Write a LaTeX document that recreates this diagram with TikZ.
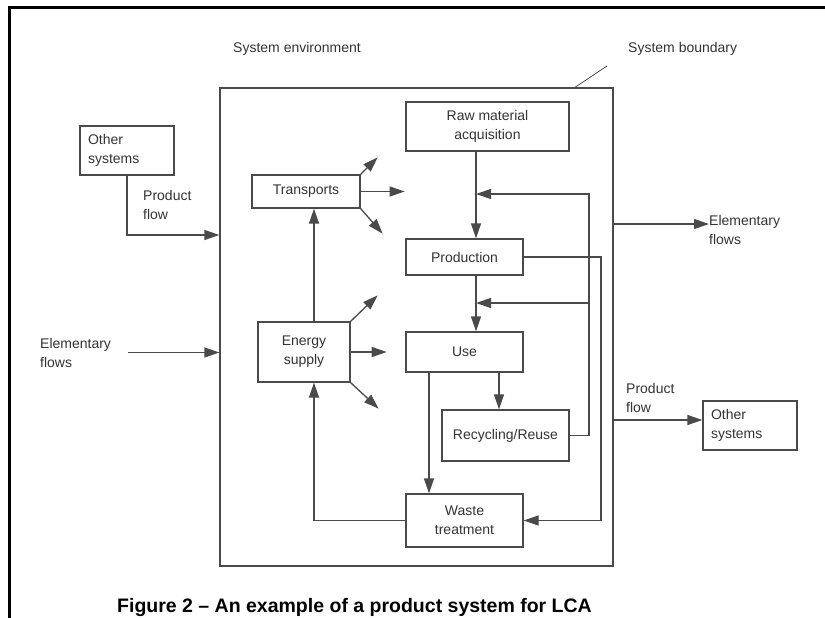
\documentclass[tikz,border=0pt]{standalone}
\usepackage{fontspec}
\setmainfont{Liberation Sans}
\usetikzlibrary{arrows.meta, positioning}
\definecolor{inkgray}{HTML}{4A4A4A}
\definecolor{txtgray}{HTML}{333333}
\tikzset{
  stage/.style  = {rectangle, draw=inkgray, line width=1.3pt, align=center,
                   inner sep=0pt, text=txtgray, font=\fontsize{14}{19}\selectfont},
  outer/.style  = {stage, align=left, text width=78pt, inner xsep=8pt,
                   minimum width=94pt, minimum height=49pt},
  lbl/.style    = {inner sep=0pt, align=left, text=txtgray,
                   font=\fontsize{14}{19}\selectfont},
  flow/.style   = {-{Triangle[length=15pt, width=10pt]}, draw=inkgray,
                   line width=1.3pt},
  line/.style   = {draw=inkgray, line width=1.3pt}
}

\begin{document}
\begin{tikzpicture}[x=1pt, y=-1pt]
  \useasboundingbox (0,0) rectangle (825,618);
  \draw[line width=3pt] (9,618) -- (9,8) -- (825,8);

  % 시스템 경계
  \node (sys) [stage, minimum width=393, minimum height=478] at (416.5,327) {};
  \node (envlbl) [lbl, anchor=west] at (233,49) {System environment};
  \node (bndlbl) [lbl, anchor=west] at (628,49) {System boundary};
  \coordinate (bndtip) at (574,88);
  \draw[line, line width=0.8pt] (bndtip) -- ++(33,-22);

  % 단위 공정
  \node (raw)    [stage, minimum width=163, minimum height=49] at (487.5,126.5) {Raw material\\acquisition};
  \node (trans)  [stage, minimum width=108, minimum height=33] at (306,191.5)   {Transports};
  \node (prod)   [stage, minimum width=117, minimum height=36] at (464.5,257)   {Production};
  \node (energy) [stage, minimum width=92,  minimum height=60] at (304,352)     {Energy\\supply};
  \node (use)    [stage, minimum width=117, minimum height=40] at (464.5,352)   {Use};
  \node (recyc)  [stage, minimum width=127, minimum height=51] at (505.5,435.5) {Recycling/Reuse};
  \node (waste)  [stage, minimum width=117, minimum height=53] at (464.5,520.5) {Waste\\treatment};

  % 다른 시스템
  \node (othL) [outer] at (127,150.5) {Other\\systems};
  \node (othR) [outer] at (750,425.5) {Other\\systems};

  % 흐름 축
  \coordinate (mainx) at (476,0);
  \coordinate (loopx) at (589,0);
  \coordinate (outx)  at (601,0);
  \coordinate (leftx) at (314,0);

  % 주 흐름
  \draw[flow] (raw.south -| mainx) -- (prod.north -| mainx);
  \draw[flow] (prod.south -| mainx) -- (use.north -| mainx);
  \draw[flow] (use.south -| 499,0) -- (recyc.north -| 499,0);
  \draw[flow] (use.south -| 429,0) -- (waste.north -| 429,0);
  \draw[flow] (recyc.east) -| (loopx |- 0,194) -- (mainx |- 0,194);
  \draw[flow] (loopx |- 0,303) -- (mainx |- 0,303);
  \draw[flow] (prod.east) -| (outx |- waste.east) -- (waste.east);
  \draw[flow] (waste.west) -| (leftx |- energy.south);
  \draw[flow] (energy.north -| leftx) -- (trans.south -| leftx);

  % 수송, 에너지 배출
  \draw[flow] (trans.north east) -- ++(17,-17);
  \draw[flow] (trans.east) -- ++(44,0);
  \draw[flow] (trans.south east) -- ++(22,25);
  \draw[flow] (energy.north east) -- ++(27,-26);
  \draw[flow] (energy.east) -- ++(36,0);
  \draw[flow] (energy.south east) -- ++(28,26);

  % 경계 입출력
  \node (pflL) [lbl, anchor=west] at (143,205) {Product\\flow};
  \draw[flow] (othL.south) |- (sys.west |- 0,235);
  \node (elemL) [lbl, anchor=west] at (40,352.5) {Elementary\\flows};
  \draw[flow] (elemL.east -| 128,0) -- (sys.west |- elemL.east);
  \node (elemR) [lbl, anchor=west] at (709,230) {Elementary\\flows};
  \draw[flow] (sys.east |- 0,224) -- (elemR.west |- 0,224);
  \node (pflR) [lbl, anchor=west] at (626,398) {Product\\flow};
  \draw[flow] (sys.east |- 0,420) -- (othR.west |- 0,420);

  % 그림 제목
  \node (cap) [inner sep=0pt, anchor=base, font=\bfseries\fontsize{19.5}{22}\selectfont]
    at (354.5,612) {Figure 2 – An example of a product system for LCA};
\end{tikzpicture}
\end{document}
